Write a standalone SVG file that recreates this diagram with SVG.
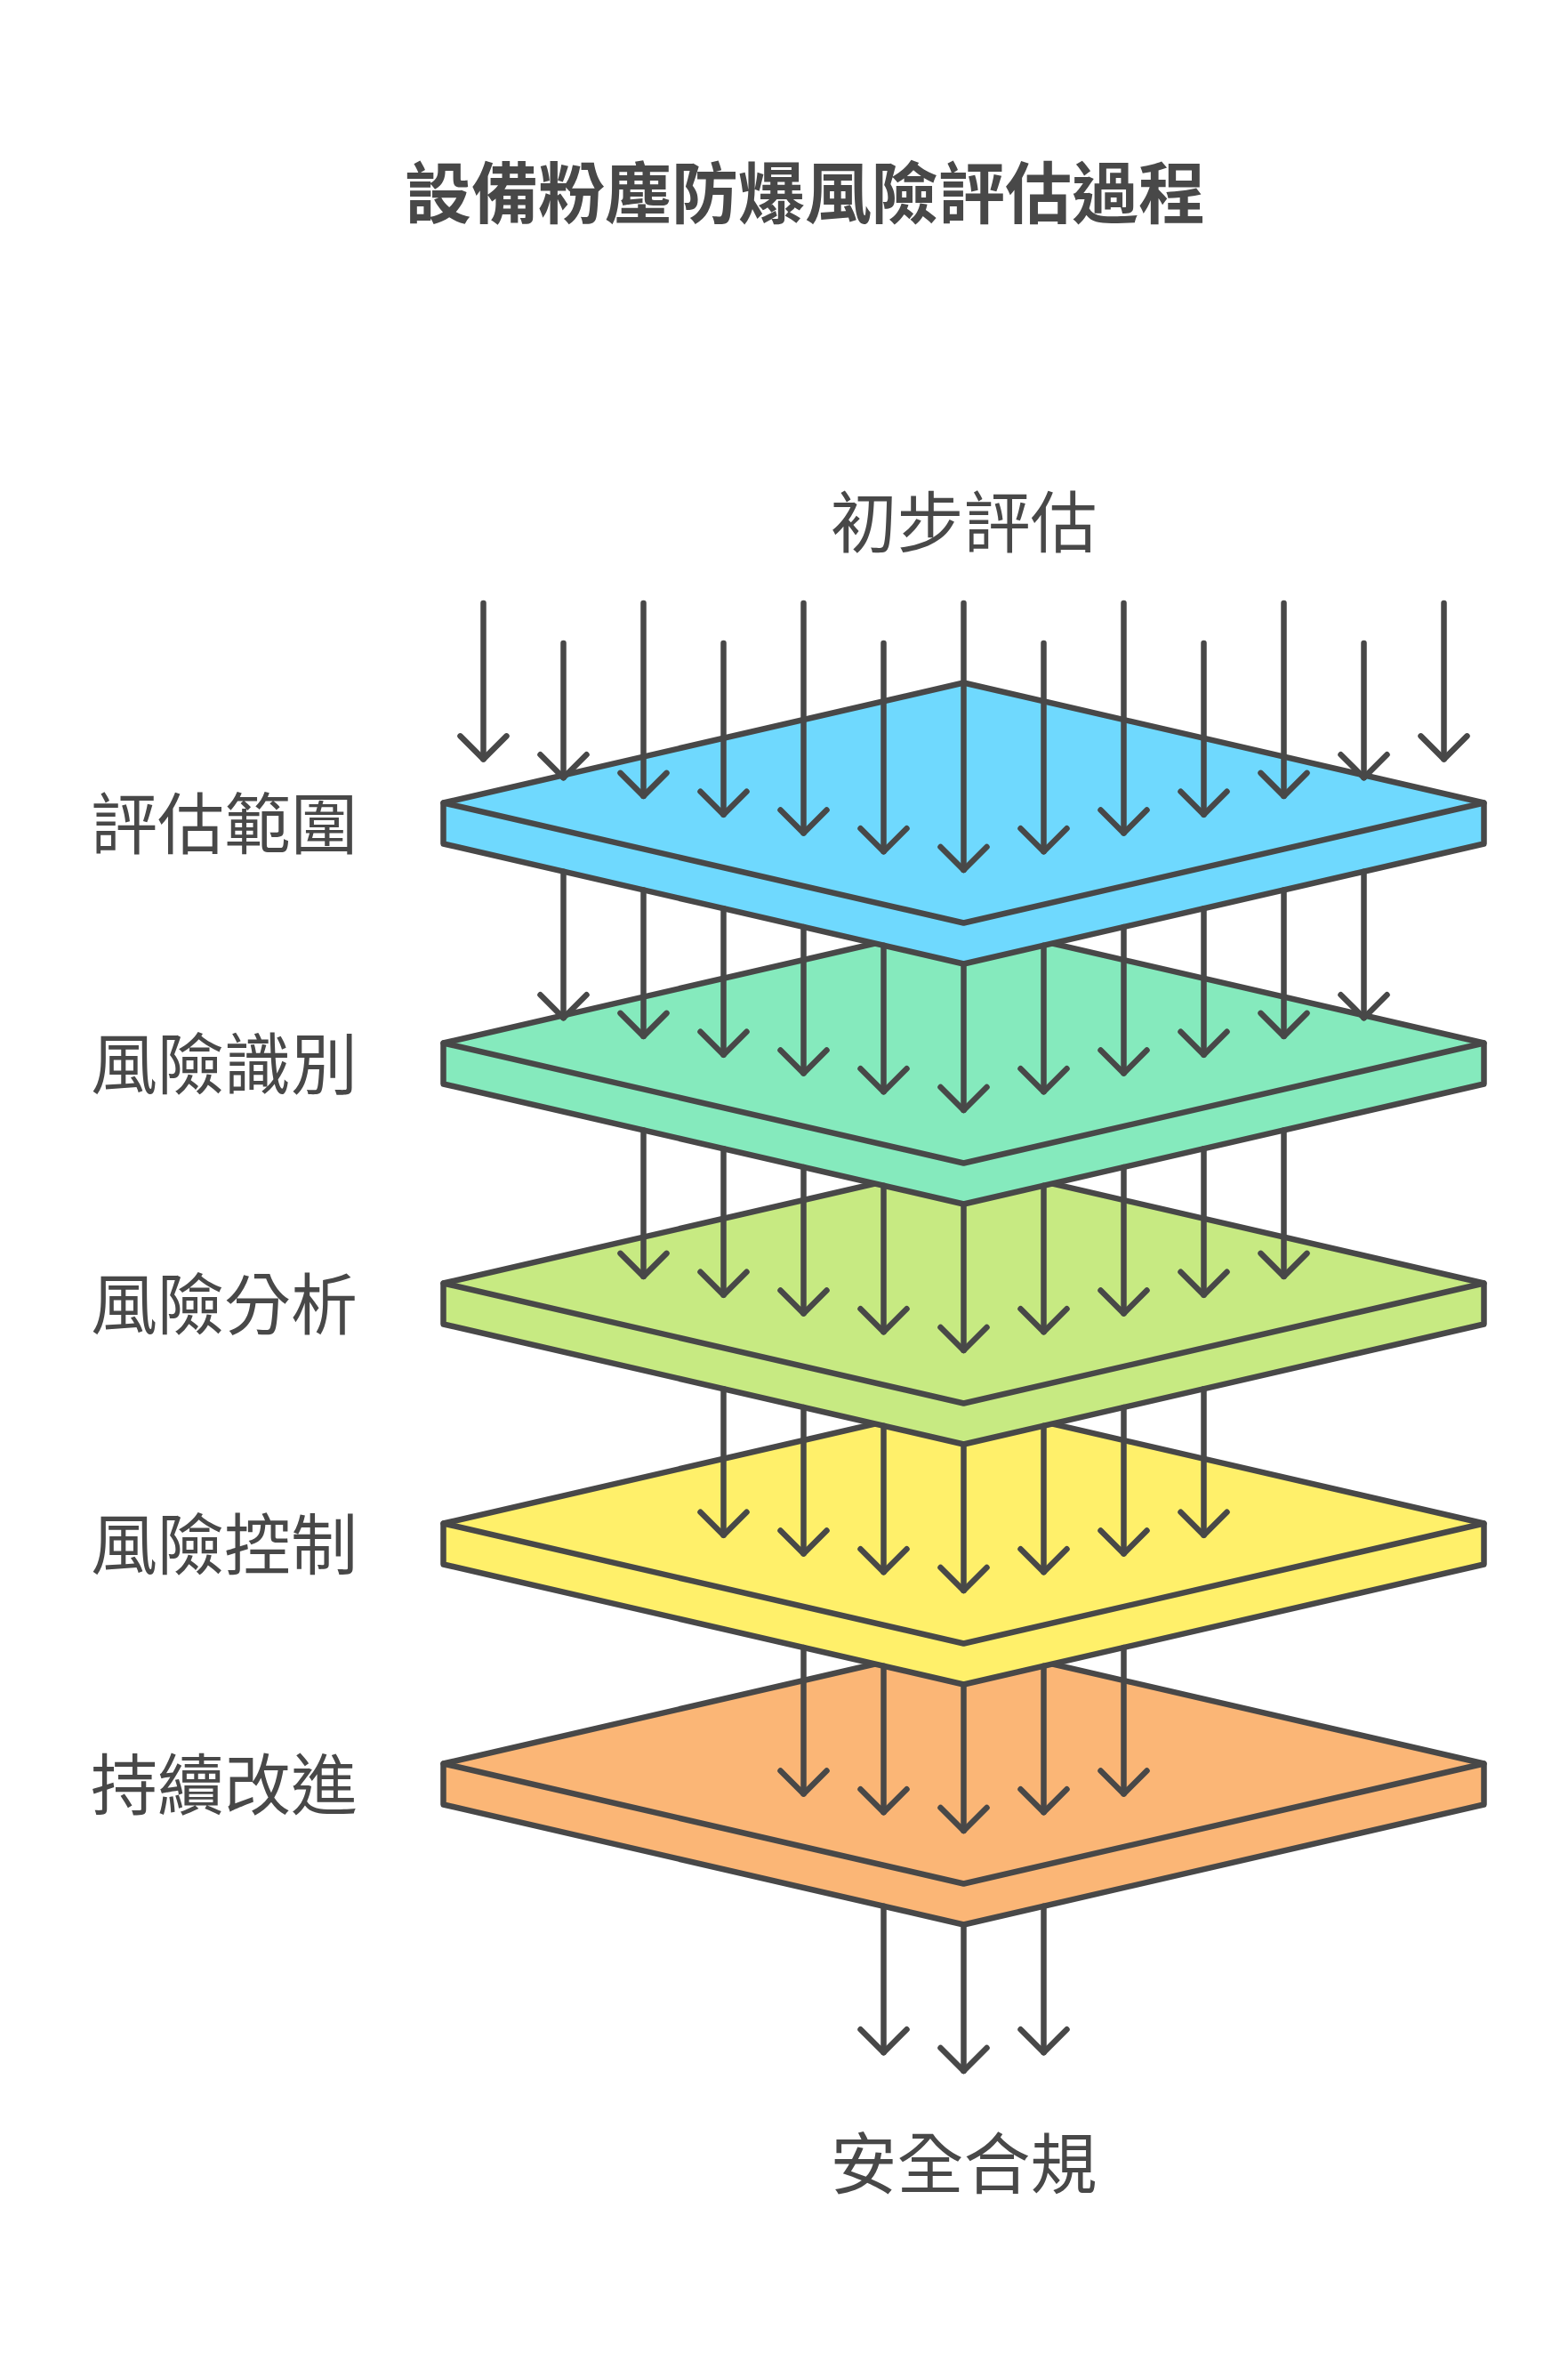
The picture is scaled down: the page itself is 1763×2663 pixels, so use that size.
<svg xmlns="http://www.w3.org/2000/svg" width="1763" height="2663" viewBox="0 0 1763 2663">
<style>
.bg{fill:#ffffff}
.t{font-family:"Noto Sans CJK TC","Noto Sans CJK SC",sans-serif;fill:#484848}
.title{font-size:75px;font-weight:700}
.lbl{font-size:75px}
.slab{stroke:#484848;stroke-width:6.5;stroke-linejoin:round;stroke-linecap:round}
.edge{fill:none;stroke:#484848;stroke-width:6.5;stroke-linejoin:round;stroke-linecap:round}
.c path{fill:none;stroke:#484848;stroke-width:6.5;stroke-linecap:round;stroke-linejoin:round;marker-end:url(#ah)}
</style>
<defs>
<marker id="ah" markerUnits="userSpaceOnUse" orient="auto" refX="0" refY="0" markerWidth="60" markerHeight="60" overflow="visible">
<path d="M-26,-26 L0,0 L-26,26" fill="none" stroke="#484848" stroke-width="6.5" stroke-linecap="round" stroke-linejoin="round"/>
</marker>
<path id="slab" d="M498.5,902.5 L1083.5,767.5 L1668.5,902.5 L1668.5,948.5 L1083.5,1083.5 L498.5,948.5 Z"/>
<path id="front" d="M498.5,902.5 L1083.5,1037.5 L1668.5,902.5"/>
</defs>
<rect class="bg" x="0" y="0" width="1763" height="2663"/>

<text id="title" class="t title" x="905" y="245" text-anchor="middle">設備粉塵防爆風險評估過程</text>

<g id="plate-5" transform="translate(0,1080)">
<use href="#slab" class="slab" fill="#FBB676"/>
<use href="#front" class="edge"/>
</g>
<g id="plate-4" transform="translate(0,810)">
<use href="#slab" class="slab" fill="#FFF06A"/>
<use href="#front" class="edge"/>
</g>
<g id="plate-3" transform="translate(0,540)">
<use href="#slab" class="slab" fill="#C7EA82"/>
<use href="#front" class="edge"/>
</g>
<g id="plate-2" transform="translate(0,270)">
<use href="#slab" class="slab" fill="#85EABD"/>
<use href="#front" class="edge"/>
</g>
<g id="plate-1">
<use href="#slab" class="slab" fill="#6FD9FE"/>
<use href="#front" class="edge"/>
</g>

<g id="connectors" class="c">
<!-- into plate 1 -->
<path d="M543.5,678 V853.4"/>
<path d="M633.5,723 V874.2"/>
<path d="M723.5,678 V894.9"/>
<path d="M813.5,723 V915.7"/>
<path d="M903.5,678 V936.5"/>
<path d="M993.5,723 V957.2"/>
<path d="M1083.5,678 V978"/>
<path d="M1173.5,723 V957.2"/>
<path d="M1263.5,678 V936.5"/>
<path d="M1353.5,723 V915.7"/>
<path d="M1443.5,678 V894.9"/>
<path d="M1533.5,723 V874.2"/>
<path d="M1623.5,678 V853.4"/>
<!-- into plate 2 -->
<path d="M633.5,979.7 V1144.2"/>
<path d="M723.5,1000.4 V1164.9"/>
<path d="M813.5,1021.2 V1185.7"/>
<path d="M903.5,1042 V1206.5"/>
<path d="M993.5,1062.7 V1227.2"/>
<path d="M1083.5,1083.5 V1248"/>
<path d="M1173.5,1062.7 V1227.2"/>
<path d="M1263.5,1042 V1206.5"/>
<path d="M1353.5,1021.2 V1185.7"/>
<path d="M1443.5,1000.4 V1164.9"/>
<path d="M1533.5,979.7 V1144.2"/>
<!-- into plate 3 -->
<path d="M723.5,1270.4 V1434.9"/>
<path d="M813.5,1291.2 V1455.7"/>
<path d="M903.5,1312 V1476.5"/>
<path d="M993.5,1332.7 V1497.2"/>
<path d="M1083.5,1353.5 V1518"/>
<path d="M1173.5,1332.7 V1497.2"/>
<path d="M1263.5,1312 V1476.5"/>
<path d="M1353.5,1291.2 V1455.7"/>
<path d="M1443.5,1270.4 V1434.9"/>
<!-- into plate 4 -->
<path d="M813.5,1561.2 V1725.7"/>
<path d="M903.5,1582 V1746.5"/>
<path d="M993.5,1602.7 V1767.2"/>
<path d="M1083.5,1623.5 V1788"/>
<path d="M1173.5,1602.7 V1767.2"/>
<path d="M1263.5,1582 V1746.5"/>
<path d="M1353.5,1561.2 V1725.7"/>
<!-- into plate 5 -->
<path d="M903.5,1852 V2016.5"/>
<path d="M993.5,1872.7 V2037.2"/>
<path d="M1083.5,1893.5 V2058"/>
<path d="M1173.5,1872.7 V2037.2"/>
<path d="M1263.5,1852 V2016.5"/>
<!-- output -->
<path d="M993.5,2142.7 V2307.2"/>
<path d="M1083.5,2163.5 V2328"/>
<path d="M1173.5,2142.7 V2307.2"/>
</g>

<g id="labels">
<text id="input-label" class="t lbl" x="1083.5" y="615" text-anchor="middle">初步評估</text>
<text id="label-1" class="t lbl" x="102" y="954">評估範圍</text>
<text id="label-2" class="t lbl" x="102" y="1224">風險識別</text>
<text id="label-3" class="t lbl" x="102" y="1494">風險分析</text>
<text id="label-4" class="t lbl" x="102" y="1764">風險控制</text>
<text id="label-5" class="t lbl" x="102" y="2034">持續改進</text>
<text id="output-label" class="t lbl" x="1083.5" y="2460" text-anchor="middle">安全合規</text>
</g>
</svg>
